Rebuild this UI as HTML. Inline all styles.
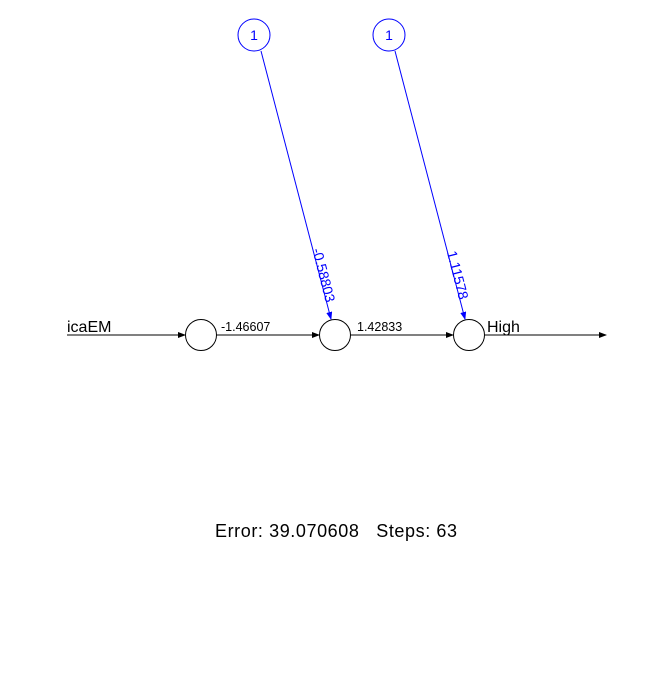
<!DOCTYPE html>
<html><head><style>body{margin:0;background:#fff}</style></head><body>
<svg width="672" height="671" xmlns="http://www.w3.org/2000/svg" font-family="Liberation Sans, sans-serif">
<defs>
<marker id="a" markerWidth="8" markerHeight="6" refX="7" refY="3" orient="auto" markerUnits="userSpaceOnUse"><path d="M0,0L8,3L0,6z" fill="#000"/></marker>
<marker id="b" markerWidth="8" markerHeight="6" refX="7" refY="3" orient="auto" markerUnits="userSpaceOnUse"><path d="M0,0L8,3L0,6z" fill="#00f"/></marker>
</defs>
<g stroke="#000" stroke-width="1" fill="none">
<line x1="67" y1="335" x2="185" y2="335" marker-end="url(#a)"/>
<line x1="216" y1="335" x2="319" y2="335" marker-end="url(#a)"/>
<line x1="351" y1="335" x2="453" y2="335" marker-end="url(#a)"/>
<line x1="485" y1="335" x2="606" y2="335" marker-end="url(#a)"/>
<circle cx="201" cy="335" r="15.5"/>
<circle cx="335" cy="335" r="15.5"/>
<circle cx="469" cy="335" r="15.5"/>
</g>
<g stroke="#00f" fill="none">
<line x1="261" y1="51" x2="331" y2="319" marker-end="url(#b)"/>
<line x1="395" y1="51" x2="465" y2="319" marker-end="url(#b)"/>
<circle cx="254" cy="35" r="16"/>
<circle cx="389" cy="35" r="16"/>
</g>
<g fill="#00f" font-size="14" text-anchor="middle">
<text x="254" y="40">1</text>
<text x="389" y="40">1</text>
<text transform="translate(320,276) rotate(75.6)" dy="1">-0.58803</text>
<text transform="translate(454,276) rotate(75.6)" dy="1">1.11578</text>
</g>
<g font-size="12.5" fill="#000">
<text x="221" y="331">-1.46607</text>
<text x="357" y="331">1.42833</text>
</g>
<g font-size="16" fill="#000">
<text x="67" y="332">icaEM</text>
<text x="487" y="332">High</text>
<text x="215" y="537" font-size="18" textLength="242" xml:space="preserve" style="white-space:pre">Error: 39.070608   Steps: 63</text>
</g>
</svg>
</body></html>
